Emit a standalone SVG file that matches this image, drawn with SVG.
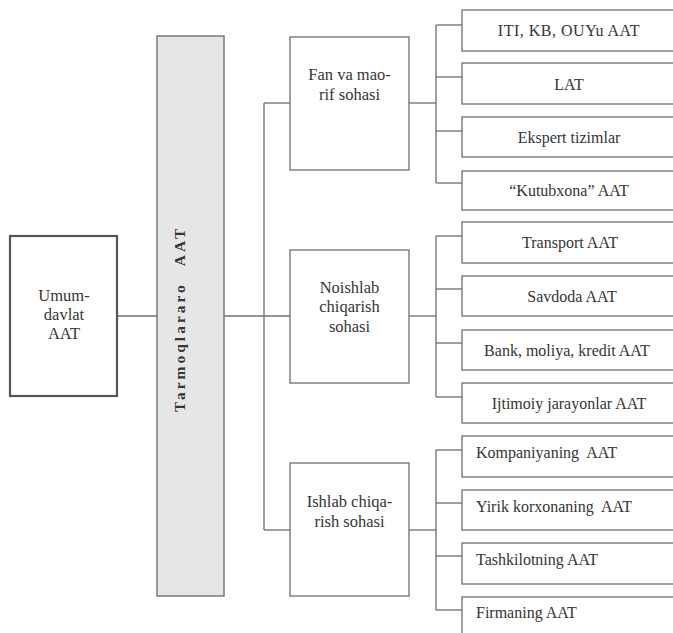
<svg xmlns="http://www.w3.org/2000/svg" width="673" height="633" viewBox="0 0 673 633">
<style>
  .box { fill: #ffffff; stroke: #6f6f6f; stroke-width: 1.3; }
  .main { fill: #ffffff; stroke: #555555; stroke-width: 2.2; }
  .bar { fill: #e6e6e6; stroke: #7a7a7a; stroke-width: 1.5; }
  .conn { fill: none; stroke: #6f6f6f; stroke-width: 1.3; }
  text { font-family: "Liberation Serif", "Times New Roman", serif; font-size: 16px; fill: #363636; }
  .c { text-anchor: middle; }
  .l { text-anchor: start; }
  .mid { font-size: 16.5px; }
  .big { font-size: 16.5px; }
  .vt { font-weight: bold; font-size: 15.5px; letter-spacing: 3px; }
</style>
<rect width="673" height="633" fill="#ffffff"/>

<g id="connectors">
  <path class="conn" d="M117,316 H157"/>
  <path class="conn" d="M224,316 H290"/>
  <path class="conn" d="M264,103 V530"/>
  <path class="conn" d="M264,103 H290"/>
  <path class="conn" d="M264,530 H290"/>
  <path class="conn" d="M409,103 H436"/>
  <path class="conn" d="M436,25 V183"/>
  <path class="conn" d="M436,25 H462"/>
  <path class="conn" d="M436,77 H462"/>
  <path class="conn" d="M436,131 H462"/>
  <path class="conn" d="M436,183 H462"/>
  <path class="conn" d="M409,316 H436"/>
  <path class="conn" d="M436,236 V397"/>
  <path class="conn" d="M436,236 H462"/>
  <path class="conn" d="M436,289 H462"/>
  <path class="conn" d="M436,343 H462"/>
  <path class="conn" d="M436,397 H462"/>
  <path class="conn" d="M409,530 H436"/>
  <path class="conn" d="M436,450 V610"/>
  <path class="conn" d="M436,450 H462"/>
  <path class="conn" d="M436,503 H462"/>
  <path class="conn" d="M436,556 H462"/>
  <path class="conn" d="M436,610 H462"/>
</g>

<g id="umumdavlat">
  <rect class="main" x="10" y="236" width="107" height="160"/>
  <text class="c big" x="64" y="301">Umum-</text>
  <text class="c big" x="64" y="320">davlat</text>
  <text class="c big" x="64" y="339">AAT</text>
</g>

<g id="tarmoqlararo">
  <rect class="bar" x="157" y="36" width="67" height="560"/>
  <text class="vt" transform="translate(185,412) rotate(-90)">Tarmoqlararo<tspan dx="16">AAT</tspan></text>
</g>

<g id="fan">
  <rect class="box" x="290" y="37" width="119" height="133"/>
  <text class="c mid" x="349.5" y="80">Fan va mao-</text>
  <text class="c mid" x="349.5" y="100">rif sohasi</text>
</g>

<g id="noishlab">
  <rect class="box" x="290" y="250" width="119" height="133"/>
  <text class="c mid" x="349.5" y="293">Noishlab</text>
  <text class="c mid" x="349.5" y="312">chiqarish</text>
  <text class="c mid" x="349.5" y="332">sohasi</text>
</g>

<g id="ishlab">
  <rect class="box" x="290" y="463" width="119" height="133"/>
  <text class="c mid" x="349.5" y="507">Ishlab chiqa-</text>
  <text class="c mid" x="349.5" y="527">rish sohasi</text>
</g>

<g id="iti">
  <rect class="box" x="462" y="10" width="213" height="41"/>
  <text class="c" x="569" y="36" letter-spacing="0.5">ITI, KB, OUYu AAT</text>
</g>
<g id="lat">
  <rect class="box" x="462" y="63" width="213" height="41"/>
  <text class="c" x="569" y="90">LAT</text>
</g>
<g id="ekspert">
  <rect class="box" x="462" y="117" width="213" height="40"/>
  <text class="c" x="569" y="143">Ekspert tizimlar</text>
</g>
<g id="kutubxona">
  <rect class="box" x="462" y="171" width="213" height="39"/>
  <text class="c" x="569" y="196">“Kutubxona” AAT</text>
</g>

<g id="transport">
  <rect class="box" x="462" y="222" width="213" height="41"/>
  <text class="c" x="570" y="248">Transport AAT</text>
</g>
<g id="savdoda">
  <rect class="box" x="462" y="276" width="213" height="40"/>
  <text class="c" x="572" y="302">Savdoda AAT</text>
</g>
<g id="bank">
  <rect class="box" x="462" y="330" width="213" height="40"/>
  <text class="c" x="567" y="356">Bank, moliya, kredit AAT</text>
</g>
<g id="ijtimoiy">
  <rect class="box" x="462" y="383" width="213" height="40"/>
  <text class="c" x="569" y="409">Ijtimoiy jarayonlar AAT</text>
</g>

<g id="kompaniya">
  <rect class="box" x="462" y="436" width="213" height="41"/>
  <text class="l" x="476" y="458" xml:space="preserve">Kompaniyaning  AAT</text>
</g>
<g id="yirik">
  <rect class="box" x="462" y="490" width="213" height="40"/>
  <text class="l" x="476" y="512" xml:space="preserve">Yirik korxonaning  AAT</text>
</g>
<g id="tashkilot">
  <rect class="box" x="462" y="543" width="213" height="41"/>
  <text class="l" x="476" y="565">Tashkilotning AAT</text>
</g>
<g id="firma">
  <rect class="box" x="462" y="597" width="213" height="42"/>
  <text class="l" x="476" y="618">Firmaning AAT</text>
</g>
</svg>
